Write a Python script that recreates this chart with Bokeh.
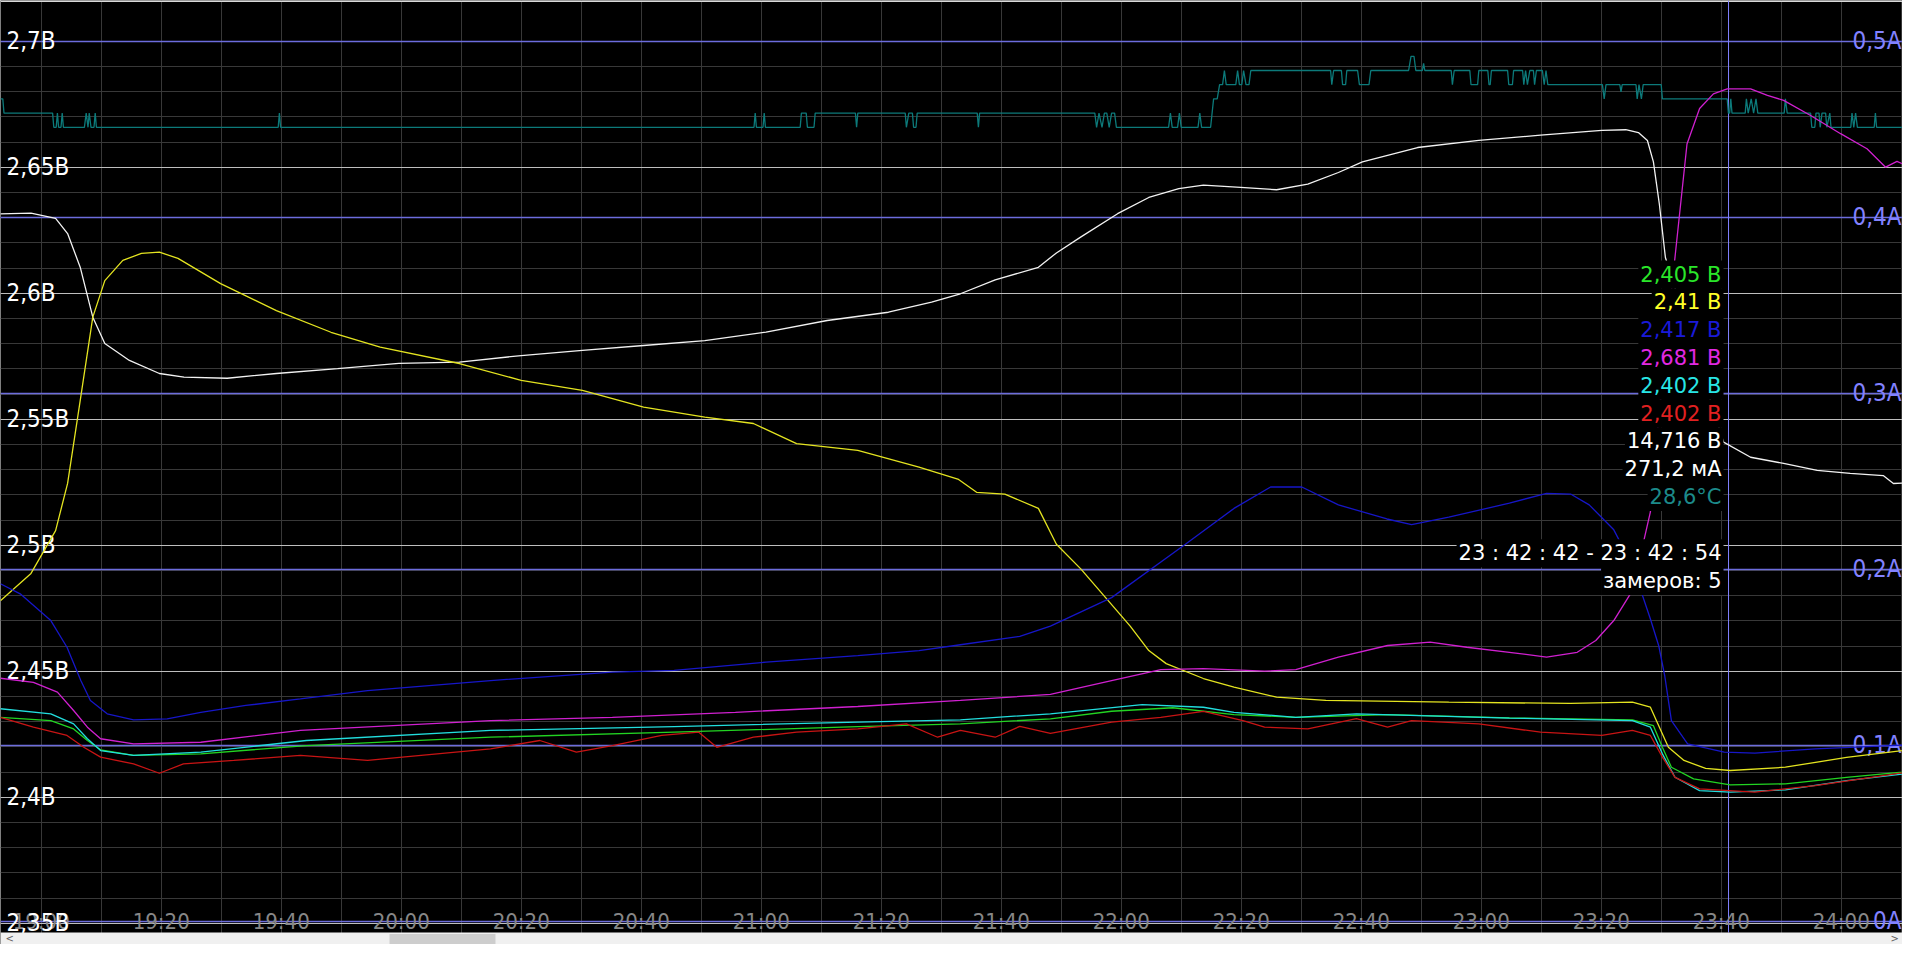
from bokeh.plotting import figure
from bokeh.models import Range1d, Grid, FixedTicker
from bokeh.core.properties import value
from bokeh.embed import file_html
from bokeh.resources import INLINE

# ---------------- data (time = minutes after 19:00) ----------------
yellow_t = [-6.8, -1.7, 2.4, 4.4, 6.5, 8.6, 10.6, 13.6, 16.7, 19.7, 22.8, 29.9, 39.2, 48.3, 56.5, 69.7, 80.0, 90.2,
            100.4, 110.6, 118.7, 125.9, 136.1, 146.3, 152.9, 155.9, 160.6, 166.2, 169.2, 173.3, 177.4, 181.5, 184.6,
            187.5, 193.7, 198.8, 205.9, 214.1, 234.6, 254.9, 265.2, 268.2, 269.7, 271.2, 273.8, 277.4, 281.5, 290.7,
            300.9, 312.9]
yellow_v = [2.478, 2.4888, 2.5058, 2.5245, 2.5574, 2.5905, 2.605, 2.613, 2.6158, 2.6163, 2.6138, 2.6038, 2.5931,
            2.5845, 2.5786, 2.5721, 2.5654, 2.5614, 2.5548, 2.5508, 2.5483, 2.5403, 2.5376, 2.5310, 2.5261, 2.5210,
            2.5203, 2.5146, 2.5004, 2.4905, 2.4792, 2.4679, 2.4582, 2.4530, 2.4471, 2.4437, 2.4397, 2.4384, 2.4377,
            2.4372, 2.4377, 2.4357, 2.4278, 2.4198, 2.4146, 2.4114, 2.4106, 2.4119, 2.4158, 2.4193]

white_t = [-6.8, -1.7, 2.4, 4.4, 6.5, 8.6, 10.6, 14.7, 19.7, 23.8, 31.0, 39.2, 49.4, 59.6, 69.7, 80.0, 90.2, 100.4,
           110.6, 120.8, 131.0, 141.2, 148.4, 153.2, 159.0, 166.2, 169.2, 173.3, 179.4, 184.6, 189.6, 193.7, 199.9,
           205.9, 211.1, 216.2, 220.2, 229.4, 239.6, 249.9, 260.1, 264.1, 266.2, 267.7, 268.7, 269.7, 270.7, 280.4,
           284.9, 290.4, 296.0, 301.5, 307.0, 308.7, 312.9]
white_a = [0.4019, 0.4023, 0.3993, 0.3907, 0.3716, 0.3432, 0.3282, 0.3186, 0.3112, 0.3091, 0.3085, 0.3112, 0.3140,
           0.3169, 0.3176, 0.3214, 0.3243, 0.3271, 0.3299, 0.3347, 0.3413, 0.3460, 0.3517, 0.3565, 0.3644, 0.3715,
           0.3797, 0.3888, 0.4020, 0.4112, 0.4162, 0.4182, 0.4169, 0.4156, 0.4188, 0.4254, 0.4314, 0.4396, 0.4436,
           0.4466, 0.4493, 0.4497, 0.4481, 0.4436, 0.4314, 0.4072, 0.3771, 0.2722, 0.2636, 0.2601, 0.2561, 0.2544,
           0.2532, 0.2487, 0.2494]

blue_t = [-6.8, -3.5, 1.6, 4.3, 6.6, 8.2, 11.0, 15.4, 21.0, 26.6, 34.1, 43.2, 54.4, 74.9, 95.2, 105.5, 120.8, 136.1,
          146.3, 153.2, 163.1, 168.2, 178.4, 190.7, 198.8, 204.9, 210.1, 216.2, 224.3, 228.4, 234.6, 244.7, 250.9,
          254.9, 258.0, 262.1, 265.2, 268.2, 269.6, 270.6, 271.7, 274.4, 280.5, 285.6, 295.7, 312.9]
blue_v = [2.4847, 2.4807, 2.4701, 2.4595, 2.4463, 2.4384, 2.4331, 2.4307, 2.4311, 2.4337, 2.4364, 2.4390, 2.4423,
          2.4463, 2.4496, 2.4503, 2.4536, 2.4562, 2.4582, 2.4605, 2.4638, 2.4679, 2.4792, 2.5004, 2.5146, 2.5231,
          2.5231, 2.5160, 2.5104, 2.5082, 2.5111, 2.5167, 2.5206, 2.5203, 2.5160, 2.5061, 2.4919, 2.4707, 2.4600,
          2.4480, 2.4304, 2.4212, 2.4179, 2.4175, 2.4192, 2.4209]

magenta_t = [-6.8, -1.3, 2.7, 5.4, 7.7, 9.9, 15.4, 26.6, 43.2, 74.9, 95.2, 115.7, 136.1, 153.2, 168.2, 178.4, 186.6,
             193.7, 203.9, 209.1, 216.2, 224.4, 231.5, 237.6, 244.7, 250.9, 256.0, 259.1, 262.1, 265.2, 268.2, 270.2,
             274.3, 276.4, 278.7, 281.0, 284.9, 287.7, 290.4, 294.9, 299.9, 304.3, 307.4, 309.3, 311.5, 312.9]
magenta_v = [2.4472, 2.4456, 2.4417, 2.4344, 2.4278, 2.4232, 2.4212, 2.4218, 2.4265, 2.4304, 2.4317, 2.4337, 2.4360,
             2.4384, 2.4408, 2.4463, 2.4506, 2.4510, 2.4500, 2.4506, 2.4556, 2.4602, 2.4615, 2.4595, 2.4575, 2.4556,
             2.4575, 2.4622, 2.4701, 2.4820, 2.5132, 2.5671, 2.6592, 2.6733, 2.6791, 2.6811, 2.6811, 2.6785, 2.6765,
             2.6705, 2.6633, 2.6573, 2.6500, 2.6523, 2.6500, 2.6460]

green_t = [-6.8, 1.6, 5.4, 7.7, 9.9, 15.4, 26.6, 44.2, 74.9, 105.5, 136.1, 153.2, 168.2, 178.4, 188.6, 198.8, 209.1,
           224.4, 244.7, 265.2, 268.7, 270.2, 271.7, 275.4, 281.5, 290.7, 300.9, 312.9]
green_v = [2.4317, 2.4304, 2.4271, 2.4225, 2.4188, 2.4166, 2.4172, 2.4205, 2.4238, 2.4258, 2.4280, 2.4291, 2.4311,
           2.4341, 2.4355, 2.4328, 2.4317, 2.4328, 2.4315, 2.4307, 2.4284, 2.4198, 2.4119, 2.4073, 2.4049, 2.4053,
           2.4079, 2.4106]

cyan_t = [-6.8, 1.6, 5.4, 7.7, 9.9, 15.4, 26.6, 44.2, 74.9, 105.5, 136.1, 153.2, 168.2, 183.5, 193.7, 198.8, 209.1,
          219.2, 244.7, 265.2, 268.2, 270.2, 272.3, 276.4, 281.5, 290.7, 300.9, 312.9]
cyan_v = [2.4351, 2.4331, 2.4291, 2.4232, 2.4185, 2.4166, 2.4179, 2.4225, 2.4265, 2.4280, 2.4298, 2.4307, 2.4331,
          2.4367, 2.4357, 2.4337, 2.4317, 2.4331, 2.4314, 2.4304, 2.4278, 2.4172, 2.4079, 2.4026, 2.4020, 2.4029,
          2.4066, 2.4099]

red_t = [-6.8, -1.3, 4.3, 7.1, 9.9, 15.4, 19.7, 23.7, 32.1, 43.2, 54.4, 74.9, 83.1, 89.2, 95.2, 103.4, 109.6, 112.6,
         118.7, 125.9, 136.1, 144.2, 149.4, 153.2, 159.0, 163.1, 168.2, 178.4, 186.6, 193.7, 200.3, 203.9, 211.1,
         219.2, 224.4, 228.4, 239.6, 249.9, 260.1, 265.2, 268.2, 270.2, 272.3, 276.4, 285.6, 295.7, 312.9]
red_v = [2.4317, 2.4278, 2.4245, 2.4198, 2.4159, 2.4132, 2.4095, 2.4132, 2.4146, 2.4166, 2.4146, 2.4192, 2.4225,
         2.4179, 2.4205, 2.4245, 2.4258, 2.4198, 2.4238, 2.4258, 2.4271, 2.4291, 2.4238, 2.4265, 2.4238, 2.4281,
         2.4253, 2.4298, 2.4317, 2.4341, 2.4304, 2.4278, 2.4271, 2.4312, 2.4278, 2.4304, 2.4291, 2.4258, 2.4245,
         2.4265, 2.4245, 2.4159, 2.4079, 2.4033, 2.4020, 2.4046, 2.4106]

teal_t = [-6.8, -6.4, -6.2, 1.9, 2.1, 2.5, 2.7, 2.9, 3.3, 3.5, 3.7, 7.2, 7.5, 7.8, 8.0, 8.3, 8.8, 9.0, 9.2, 39.5,
          39.7, 39.9,
          118.8, 119.0, 119.2, 120.3, 120.5, 120.7, 126.5, 126.7, 127.5, 127.7, 128.8, 129.0, 135.7, 135.9, 136.1,
          144.0, 144.2, 144.6, 145.2, 145.4, 145.8, 146.0, 156.0, 156.2, 156.4, 175.6, 175.9, 176.3, 176.8, 177.2,
          177.6, 178.0, 178.4, 178.9, 179.2, 187.9, 188.2, 188.5, 189.4, 189.7, 190.0, 192.8, 193.1, 193.4, 194.9,
          195.4, 196.0, 196.4, 196.9, 197.2, 197.5, 199.1, 199.4, 199.7, 200.1, 200.4, 200.8, 201.3, 201.6, 214.9,
          215.1, 215.4, 216.7, 216.9, 217.4, 217.6, 219.4, 219.7, 221.3, 221.6, 227.9, 228.3, 228.8, 229.1, 230.2,
          230.4, 230.6, 235.0, 235.2, 235.5, 238.1, 238.3, 239.4, 239.6, 241.1, 241.3, 241.5, 241.7, 244.4, 244.6,
          245.2, 245.4, 246.9, 247.1, 247.4, 247.7, 248.1, 248.7, 248.9, 249.2, 250.2, 250.5, 250.8, 251.1, 260.2,
          260.5, 260.8, 263.1, 263.3, 263.5, 265.8, 266.0, 266.3, 266.7, 267.0, 270.0, 270.2, 281.0, 281.2, 281.4,
          281.6, 281.8, 284.0, 284.2, 284.5, 285.0, 285.4, 285.8, 286.1, 290.5, 290.7, 291.0, 294.9, 295.1, 295.6,
          295.8, 296.3, 296.5, 296.8, 297.4, 297.6, 298.1, 298.3, 301.6, 301.8, 302.1, 302.4, 302.7, 305.5, 305.7,
          305.9, 312.9]
teal_c = [28.7, 28.7, 28.6, 28.6, 28.5, 28.5, 28.6, 28.5, 28.5, 28.6, 28.5, 28.5, 28.6, 28.5, 28.6, 28.5, 28.5,
          28.6, 28.5, 28.5, 28.6, 28.5,
          28.5, 28.6, 28.5, 28.5, 28.6, 28.5, 28.5, 28.6, 28.6, 28.5, 28.5, 28.6, 28.6, 28.5, 28.6,
          28.6, 28.5, 28.6, 28.6, 28.5, 28.5, 28.6, 28.6, 28.5, 28.6, 28.6, 28.5, 28.6, 28.5, 28.6,
          28.6, 28.5, 28.6, 28.6, 28.5, 28.5, 28.6, 28.5, 28.5, 28.6, 28.5, 28.5, 28.6, 28.5, 28.5,
          28.7, 28.7, 28.8, 28.8, 28.9, 28.8, 28.8, 28.9, 28.8, 28.8, 28.9, 28.8, 28.8, 28.9, 28.9,
          28.8, 28.9, 28.9, 28.8, 28.8, 28.9, 28.9, 28.8, 28.8, 28.9, 28.9, 29.0, 29.0, 28.9, 28.9,
          28.95, 28.9, 28.9, 28.8, 28.9, 28.9, 28.8, 28.8, 28.9, 28.9, 28.8, 28.8, 28.9, 28.9, 28.8,
          28.8, 28.9, 28.9, 28.8, 28.9, 28.8, 28.9, 28.9, 28.8, 28.9, 28.9, 28.8, 28.9, 28.8, 28.8,
          28.7, 28.8, 28.8, 28.75, 28.8, 28.8, 28.7, 28.8, 28.7, 28.8, 28.8, 28.7, 28.7, 28.6, 28.6,
          28.7, 28.6, 28.6, 28.7, 28.6, 28.7, 28.6, 28.7, 28.6, 28.6, 28.7, 28.6, 28.6, 28.5, 28.5,
          28.6, 28.6, 28.5, 28.6, 28.6, 28.5, 28.6, 28.5, 28.5, 28.6, 28.5, 28.6, 28.5, 28.5, 28.6,
          28.5, 28.5]

cursor_t = 281.22
readout_text = ["2,405 В", "2,41 В", "2,417 В", "2,681 В", "2,402 В", "2,402 В", "14,716 В", "271,2 мА", "28,6°C"]
readout_time = ["23 : 42 : 42 - 23 : 42 : 54", "замеров: 5"]

volt_ticks = [2.35, 2.40, 2.45, 2.50, 2.55, 2.60, 2.65, 2.70]
volt_labels = ["2,35В", "2,4В", "2,45В", "2,5В", "2,55В", "2,6В", "2,65В", "2,7В"]
volt_minor = [round(2.35 + 0.01 * i, 2) for i in range(36)]
amp_ticks = [0.0, 0.1, 0.2, 0.3, 0.4, 0.5]
amp_labels = ["0А", "0,1А", "0,2А", "0,3А", "0,4А", "0,5А"]
time_ticks = list(range(0, 301, 20))
time_labels = ["19:00", "19:20", "19:40", "20:00", "20:20", "20:40", "21:00", "21:20", "21:40", "22:00", "22:20",
               "22:40", "23:00", "23:20", "23:40", "24:00"]
time_minor = list(range(-10, 320, 10))

# ---------------- layout / style ----------------
W, H = 1902, 944
X0, X1 = -6.7833, 310.2167
V_TOP, V_BOT = 2.716151, 2.341548
A_TOP, A_BOT = 0.523125, -0.013239
T_TOP, T_BOT = 29.392958, 22.745071
AX_FONT = value("DejaVu Sans Condensed")
TT_FONT = value("DejaVu Sans")


def v_at(py):
    return V_TOP - py * (V_TOP - V_BOT) / H


def t_at(px):
    return X0 + px * (X1 - X0) / W


p = figure(width=W, height=H, x_range=Range1d(X0, X1), y_range=Range1d(V_BOT, V_TOP),
           output_backend="svg", toolbar_location=None, x_axis_location=None, y_axis_location=None,
           min_border=0, background_fill_color="black", border_fill_color="black", outline_line_color=None)
p.extra_y_ranges = {"amp": Range1d(A_BOT, A_TOP), "temp": Range1d(T_BOT, T_TOP)}

p.add_layout(Grid(dimension=0, ticker=FixedTicker(ticks=time_minor), grid_line_color="#383838", grid_line_width=1))
p.add_layout(Grid(dimension=1, ticker=FixedTicker(ticks=volt_minor), grid_line_color="#383838", grid_line_width=1))
p.add_layout(Grid(dimension=1, ticker=FixedTicker(ticks=volt_ticks), grid_line_color="#bebebe", grid_line_width=1))
p.add_layout(Grid(dimension=1, y_range_name="amp", ticker=FixedTicker(ticks=amp_ticks),
                  grid_line_color="#6c6cdc", grid_line_width=1.5))

# window top edge
p.quad(left=[X0], right=[X1], top=[V_TOP], bottom=[v_at(1.5)], fill_color="#d8d8d8", line_color=None)

# cursor
p.segment(x0=[cursor_t], y0=[V_TOP], x1=[cursor_t], y1=[v_at(932)], line_color="#8282ff", line_width=1)

# axis-like labels
p.text(x=time_ticks, y=[2.35] * len(time_ticks), text=time_labels, text_color="#878787", text_font=AX_FONT,
       text_font_size="22px", text_align="center", text_baseline="middle", y_offset=-2)
p.text(x=[X0] * len(volt_ticks), y=volt_ticks, text=volt_labels, text_color="white", text_font=AX_FONT,
       text_font_size="24px", text_align="left", text_baseline="middle", x_offset=6)
p.text(x=[X1] * len(amp_ticks), y=amp_ticks, text=amp_labels, text_color="#8282ff", text_font=AX_FONT,
       text_font_size="24px", text_align="right", text_baseline="middle", x_offset=-1, y_range_name="amp")

# series
lw = 1.3
p.line(teal_t, teal_c, line_color="#0c7a7a", line_width=lw, y_range_name="temp")
p.line(white_t, white_a, line_color="#f2f2f2", line_width=lw, y_range_name="amp")
p.line(yellow_t, yellow_v, line_color="#e4e420", line_width=lw)
p.line(blue_t, blue_v, line_color="#1616c8", line_width=lw)
p.line(magenta_t, magenta_v, line_color="#d020d0", line_width=lw)
p.line(green_t, green_v, line_color="#22d422", line_width=lw)
p.line(cyan_t, cyan_v, line_color="#22dede", line_width=lw)
p.line(red_t, red_v, line_color="#c81414", line_width=lw)

# read-out block
row_colors = ["#2ae62a", "#ffff28", "#1a1ad8", "#e228e2", "#28e6e6", "#e22020", "white", "white", "#1c8a8a"]
row_y = [v_at(274 + 27.8 * i) for i in range(len(readout_text))]
p.text(x=[cursor_t] * len(readout_text), y=row_y, text=readout_text, text_color=row_colors, text_font=TT_FONT,
       text_font_size="21px", text_align="right", text_baseline="middle", x_offset=-5,
       background_fill_color="black", padding=2)
p.text(x=[cursor_t] * 2, y=[v_at(552.7), v_at(580.5)], text=readout_time, text_color="white", text_font=TT_FONT,
       text_font_size="21px", text_align="right", text_baseline="middle", x_offset=-5,
       background_fill_color="black", padding=2)

# scrollbar
p.quad(left=[X0], right=[X1], top=[v_at(932)], bottom=[V_BOT], fill_color="#f0f0f0", line_color=None)
p.quad(left=[t_at(389)], right=[t_at(495)], top=[v_at(933.5)], bottom=[V_BOT], fill_color="#cdcdcd",
       line_color=None)
p.text(x=[t_at(5), t_at(1890)], y=[v_at(938), v_at(938)], text=["<", ">"], text_color="#606060",
       text_font=TT_FONT, text_font_size="10px", text_align="left", text_baseline="middle")

open("out.html", "w").write(file_html(p, INLINE))
